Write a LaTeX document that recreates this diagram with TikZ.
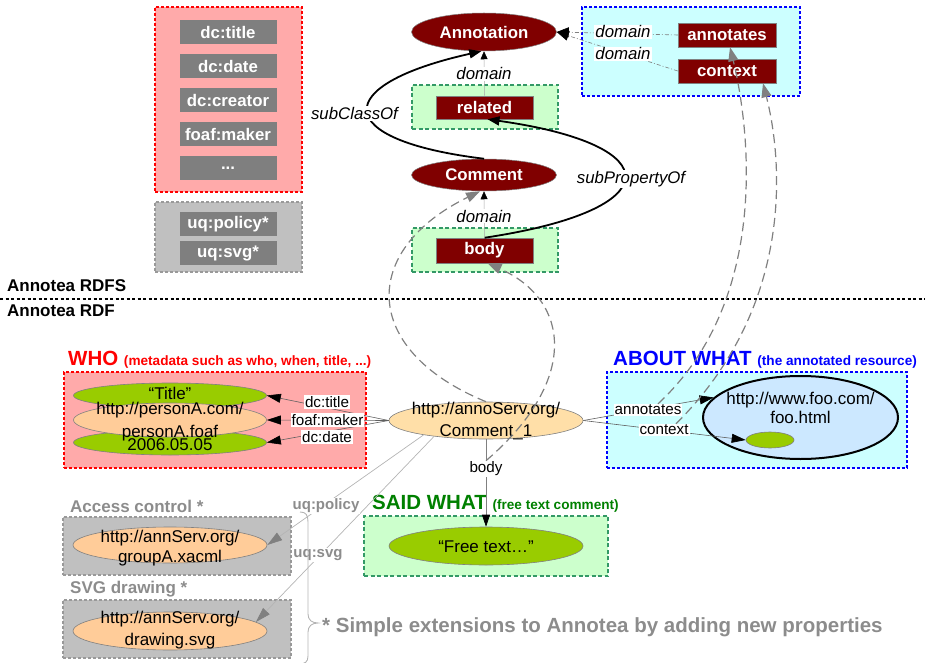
\documentclass[tikz,border=0pt]{standalone}
\usepackage{fontspec}
\setmainfont{Liberation Sans}
\usetikzlibrary{arrows.meta,shapes.geometric}

\definecolor{pinkfill}{HTML}{FFAAAA}
\definecolor{darkred}{HTML}{800000}
\definecolor{propgray}{HTML}{7F7F7F}
\definecolor{zonegray}{HTML}{C0C0C0}
\definecolor{zoneline}{HTML}{999999}
\definecolor{mintfill}{HTML}{CCFFCC}
\definecolor{mintline}{HTML}{339966}
\definecolor{cyanfill}{HTML}{CCFFFF}
\definecolor{leaf}{HTML}{99CC00}
\definecolor{peach}{HTML}{FFCC99}
\definecolor{cream}{HTML}{FFDFA8}
\definecolor{skyfill}{HTML}{CCE8FF}
\definecolor{saidgreen}{HTML}{008000}
\definecolor{notegray}{HTML}{8C8C8C}
\definecolor{curvegray}{HTML}{808080}
\definecolor{edgegray}{HTML}{606060}
\definecolor{uqgray}{HTML}{B4B4B4}
\definecolor{ovalline}{HTML}{808080}

\newcommand\propfnt{\fontsize{16.8}{19}\selectfont\bfseries}
\newcommand\labfnt{\fontsize{15.2}{17}\selectfont}
\newcommand\ifnt{\fontsize{16.8}{19}\selectfont\itshape}
\newcommand\valfnt{\fontsize{17}{20}\selectfont}
\newcommand\headfnt{\fontsize{20.5}{24}\selectfont\bfseries}
\newcommand\subfnt{\fontsize{13.6}{16}\selectfont\bfseries}
\newcommand\secfnt{\fontsize{17}{20}\selectfont\bfseries}

\begin{document}
\begin{tikzpicture}[x=1pt,y=-1pt,
  redzone/.style={draw=red, fill=pinkfill, line width=1.7pt, dash pattern=on 3pt off 2pt, inner sep=0},
  grayzone/.style={draw=zoneline, fill=zonegray, line width=1.4pt, dash pattern=on 3pt off 2pt, inner sep=0},
  greenzone/.style={draw=mintline, fill=mintfill, line width=1.4pt, dash pattern=on 4pt off 2.5pt, inner sep=0},
  bluezone/.style={draw=blue, fill=cyanfill, line width=1.8pt, dash pattern=on 3pt off 2pt, inner sep=0},
  propbox/.style={fill=propgray, text=white, font=\propfnt, minimum width=97pt, minimum height=24pt, inner sep=0},
  classrect/.style={fill=darkred, draw=gray, line width=0.5pt, text=white, font=\propfnt, minimum width=97pt, minimum height=24pt, inner sep=0},
  classoval/.style={ellipse, fill=darkred, draw=gray, line width=0.5pt, text=white, font=\propfnt, inner sep=0},
  valoval/.style={ellipse, draw=ovalline, line width=0.6pt, inner sep=0},
  blackcurve/.style={line width=1.8pt, -{Triangle[length=12pt,width=9pt]}},
  domainlink/.style={draw=gray!70, line width=0.5pt, -{Triangle[length=8pt,width=7pt,color=black]}},
  domaindash/.style={draw=gray, line width=0.6pt, dash pattern=on 4pt off 2pt on 1pt off 2pt, -{Triangle[length=12pt,width=10pt,color=black]}},
  typecurve/.style={draw=curvegray, line width=1.2pt, dash pattern=on 9pt off 5pt, -{Triangle[length=14pt,width=10pt]}},
  edgeline/.style={draw=edgegray, line width=0.6pt, -{Triangle[length=14pt,width=9pt,color=black]}},
  uqline/.style={draw=uqgray, line width=0.7pt, -{Triangle[length=15pt,width=9pt,color=curvegray]}},
  edgelabel/.style={fill=white, inner sep=1pt, font=\labfnt},
  rolelabel/.style={fill=white, inner sep=1pt, font=\ifnt},
  uqlabel/.style={fill=white, inner sep=1pt, font=\fontsize{15}{17}\selectfont\bfseries, text=notegray},
  valtext/.style={font=\valfnt, inner sep=0}
]
\useasboundingbox (0,0) rectangle (925,663);

% ---------- RDFS: property and class boxes ----------
\node[redzone, minimum width=147, minimum height=185] (corebox) at (228.5,99.5) {};
\node[grayzone, minimum width=147, minimum height=70] (extbox) at (228.5,237) {};
\node[propbox] (ptitle) at (228,32) {dc:title};
\node[propbox] (pdate) at (228,66) {dc:date};
\node[propbox] (pcreator) at (228,100) {dc:creator};
\node[propbox] (pmaker) at (228,134) {foaf:maker};
\node[propbox] (pmore) at (228,168) {...};
\node[propbox] (ppolicy) at (228,224) {uq:policy*};
\node[propbox] (psvg) at (228,253) {uq:svg*};

\node[classoval, minimum width=145, minimum height=38] (annotation) at (484,32) {Annotation};
\node[classoval, minimum width=145, minimum height=32] (comment) at (484,175) {Comment};
\node[greenzone, minimum width=146, minimum height=44] (relbox) at (485,107) {};
\node[classrect, minimum height=23] (related) at (484.5,107.5) {related};
\node[greenzone, minimum width=146, minimum height=44] (bodybox) at (485,250) {};
\node[classrect, minimum height=25] (bodyprop) at (484.5,250.5) {body};
\node[bluezone, minimum width=218, minimum height=89] (targetbox) at (691,51.5) {};
\node[classrect, minimum width=98] (annotates) at (727,35) {annotates};
\node[classrect, minimum width=98] (context) at (727,71) {context};

% RDFS relations
\draw[blackcurve] (comment.north) .. controls (330,140) and (330,85) .. (annotation.262);
\draw[blackcurve] (bodyprop.north) .. controls (670,210) and (670,145) .. ([xshift=3pt]related.south);
\draw[domainlink] (related.north) -- (annotation.south);
\draw[domainlink] (bodyprop.north) -- (comment.south);
\draw[domaindash] (annotates.west) -- (annotation.east);
\draw[domaindash] (context.west) -- (annotation.east);
\node[rolelabel] (subclass) at (354.5,113.5) {subClassOf};
\node[rolelabel] (subprop) at (631,179) {subPropertyOf};
\node[rolelabel] (dom1) at (484,74) {domain};
\node[rolelabel] (dom2) at (484,216) {domain};
\node[rolelabel] (dom3) at (623,32) {domain};
\node[rolelabel] (dom4) at (623,54) {domain};

% ---------- separator ----------
\draw[line width=1.4pt, dash pattern=on 3pt off 2.5pt] (0,299) -- (925,299);
\node[anchor=west, font=\secfnt, inner sep=0] (rdfslabel) at (7,286) {Annotea RDFS};
\node[anchor=west, font=\secfnt, inner sep=0] (rdflabel) at (7,311) {Annotea RDF};

% ---------- RDF: groups ----------
\node[anchor=base west, inner sep=0, text=red] (whohead) at (68,365)
  {\headfnt WHO \subfnt(metadata such as who, when, title, ...)};
\node[anchor=base west, inner sep=0, text=blue] (abouthead) at (613,365)
  {\headfnt ABOUT WHAT \subfnt(the annotated resource)};
\node[anchor=base west, inner sep=0, text=saidgreen] (saidhead) at (372,509)
  {\headfnt SAID WHAT \subfnt(free text comment)};
\node[anchor=base west, inner sep=0, text=notegray, font=\secfnt] (acchead) at (70,512) {Access control *};
\node[anchor=base west, inner sep=0, text=notegray, font=\secfnt] (svghead) at (70,593) {SVG drawing *};

\node[redzone, minimum width=302, minimum height=96] (whobox) at (215,420) {};
\node[bluezone, minimum width=300, minimum height=96] (aboutbox) at (757,420) {};
\node[greenzone, minimum width=244, minimum height=60] (saidbox) at (486,546) {};
\node[grayzone, minimum width=228, minimum height=58] (accbox) at (177,546) {};
\node[grayzone, minimum width=228, minimum height=58] (svgbox) at (177,629) {};

% resources
\node[valoval, fill=leaf, minimum width=193, minimum height=25] (title) at (170,395.5) {};
\node[valoval, fill=leaf, minimum width=193, minimum height=25] (date) at (170,442.5) {};
\node[valoval, fill=peach, minimum width=193, minimum height=34] (person) at (170,420) {};
\node[valoval, fill=cream, minimum width=194, minimum height=37] (comment1) at (486,420.5) {};
\node[valoval, fill=leaf, minimum width=194, minimum height=38] (freetext) at (486,546) {};
\node[valoval, fill=peach, minimum width=194, minimum height=36] (groupA) at (170,545) {};
\node[valoval, fill=peach, minimum width=194, minimum height=38] (drawing) at (170,631) {};
\node[ellipse, draw=black, line width=2pt, fill=skyfill, minimum width=195, minimum height=83, inner sep=0] (foo) at (800.5,417.5) {};
\node[valoval, fill=leaf, minimum width=48, minimum height=16] (spot) at (770,440) {};

% RDF statements
\draw[edgeline] (comment1.west) -- (title.east);
\draw[edgeline] (comment1.west) -- (person.east);
\draw[edgeline] (comment1.west) -- (date.east);
\draw[edgeline] (comment1.east) -- (foo.167);
\draw[edgeline] (comment1.east) -- (spot.west);
\draw[edgeline, draw=curvegray, -{Triangle[length=12pt,width=8pt,color=black]}] (comment1.south) -- (freetext.north);
\draw[uqline] (comment1.193) -- (groupA.east);
\draw[uqline] (comment1.197) -- (drawing.6);

\node[edgelabel] (lbtitle) at (327,402) {dc:title};
\node[edgelabel] (lbmaker) at (327.5,420) {foaf:maker};
\node[edgelabel] (lbdate) at (327,437) {dc:date};
\node[edgelabel] (annotlabel) at (648,410) {annotates};
\node[edgelabel] (ctxlabel) at (664,430) {context};
\node[edgelabel] (bodylabel) at (486,469) {body};
\node[uqlabel] (lbpolicy) at (326,506) {uq:policy};
\node[uqlabel] (lbsvg) at (318,555) {uq:svg};

% texts of the resources
\node[valtext, anchor=base] (ttitle) at (170,399) {“Title”};
\node[valtext, anchor=base] (tperson1) at (170,414) {http://personA.com/};
\node[valtext, anchor=base] (tperson2) at (170,437) {personA.foaf};
\node[valtext, anchor=base] (tdate) at (170,450) {2006.05.05};
\node[valtext, align=center, font=\fontsize{17}{22}\selectfont] (tcomment1) at (486,421.5) {http://annoServ.org/\\Comment\_1};
\node[valtext, anchor=base] (tfree) at (486,552) {“Free text…”};
\node[valtext, align=center, font=\fontsize{17}{20}\selectfont] (tgroup) at (170,548) {http://annServ.org/\\groupA.xacml};
\node[valtext, align=center, font=\fontsize{17}{22}\selectfont] (tdrawing) at (170,630) {http://annServ.org/\\drawing.svg};
\node[valtext, align=center, font=\fontsize{17}{19}\selectfont] (tfoo) at (800.5,408) {http://www.foo.com/\\foo.html};

% typing links from instances to the schema
\draw[typecurve] (comment1.north) .. controls (360,350) and (360,250) .. ([xshift=-4pt]comment.south);
\draw[typecurve] (bodylabel.north) .. controls (580,380) and (570,300) .. ([xshift=3pt]bodyprop.south);
\draw[typecurve] ([xshift=10pt]annotlabel.north) .. controls (770,300) and (750,130) .. ([xshift=3pt]annotates.south);
\draw[typecurve] ([xshift=12pt]ctxlabel.north) .. controls (800,300) and (780,150) .. ([xshift=36pt]context.south);

% footnote on the extensions
\draw[uqgray, line width=0.9pt] (300,512) .. controls (306,512) and (308,515) .. (308,522) -- (308,614)
  .. controls (308,620) and (312,623) .. (318,623) .. controls (312,623) and (308,626) .. (308,632)
  -- (308,656) .. controls (308,662) and (305,664) .. (299,664);
\node[anchor=base west, inner sep=0, text=notegray, font=\headfnt] (extnote) at (322,632)
  {* Simple extensions to Annotea by adding new properties};
\end{tikzpicture}
\end{document}
